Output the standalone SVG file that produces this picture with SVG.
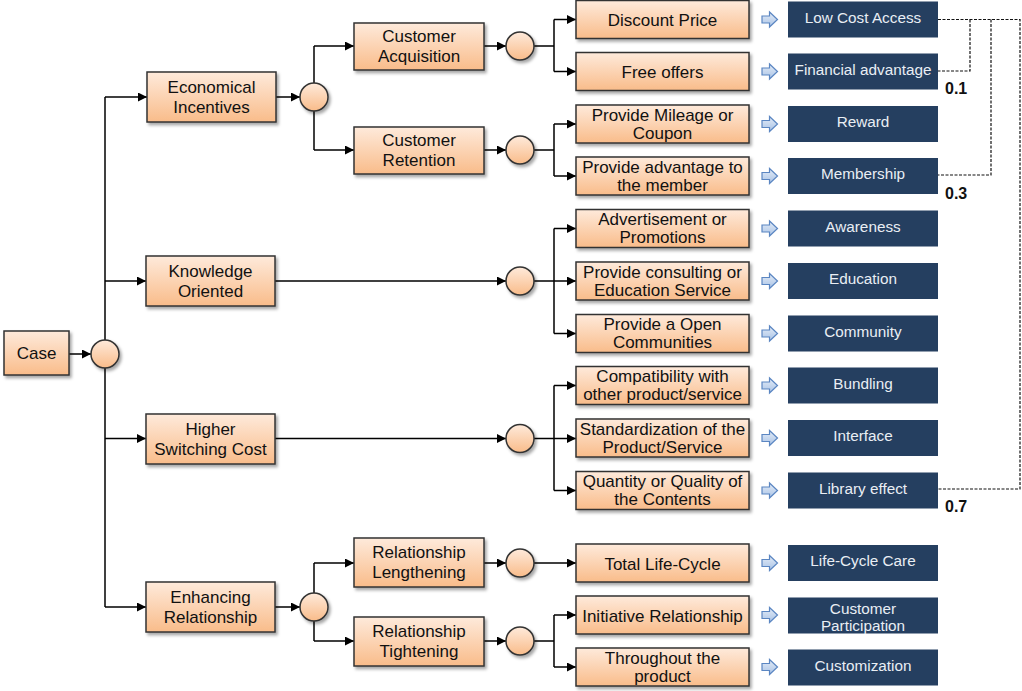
<svg xmlns="http://www.w3.org/2000/svg" width="1022" height="691" viewBox="0 0 1022 691">
<defs>
<linearGradient id="og" x1="0" y1="0" x2="0" y2="1">
<stop offset="0" stop-color="#FEEADB"/>
<stop offset="1" stop-color="#F9BC8A"/>
</linearGradient>
<linearGradient id="bg" x1="0" y1="0" x2="0" y2="1">
<stop offset="0" stop-color="#E4ECF7"/>
<stop offset="1" stop-color="#A9C3E6"/>
</linearGradient>
<filter id="sh" x="-10%" y="-10%" width="130%" height="140%">
<feDropShadow dx="2" dy="2.5" stdDeviation="1.5" flood-color="#000" flood-opacity="0.35"/>
</filter>
<marker id="ah" markerWidth="9" markerHeight="9" refX="9" refY="4.5" orient="auto" markerUnits="userSpaceOnUse">
<path d="M0,0 L9,4.5 L0,9 z" fill="#000"/>
</marker>
</defs>
<style>
.ob{fill:url(#og);stroke:#333;stroke-width:1.5;filter:url(#sh)}
.ci{fill:url(#og);stroke:#333;stroke-width:1.5;filter:url(#sh)}
.db{fill:#253F60}
.t{font-family:"Liberation Sans",Arial,sans-serif;font-size:17px;fill:#111;text-anchor:middle}
.w{font-family:"Liberation Sans",Arial,sans-serif;font-size:15.3px;fill:#E9EEF4;text-anchor:middle}
.n{font-family:"Liberation Sans",Arial,sans-serif;font-size:16px;font-weight:bold;fill:#111}
.c{fill:none;stroke:#000;stroke-width:1.5}
.a{marker-end:url(#ah)}
.d{fill:none;stroke:#111;stroke-width:1.2;stroke-dasharray:3,1.5}
.ba{fill:url(#bg);stroke:#5B86C2;stroke-width:1.2}
</style>

<g id="connectors">
<path class="c a" d="M69,354 H91"/>
<path class="c" d="M105,97 V607"/>
<path class="c a" d="M105,97 H147"/>
<path class="c a" d="M105,281 H146"/>
<path class="c a" d="M105,438.5 H146"/>
<path class="c a" d="M105,607 H146"/>
<path class="c a" d="M276,97 H300"/>
<path class="c" d="M314,46 V150"/>
<path class="c a" d="M314,46 H354"/>
<path class="c a" d="M314,150 H354"/>
<path class="c a" d="M484,46 H506"/>
<path class="c" d="M534,46 H554 M554,19.5 V71.5"/>
<path class="c a" d="M554,19.5 H576"/>
<path class="c a" d="M554,71.5 H576"/>
<path class="c a" d="M484,150 H506"/>
<path class="c" d="M534,150 H554 M554,124 V176"/>
<path class="c a" d="M554,124 H576"/>
<path class="c a" d="M554,176 H576"/>
<path class="c a" d="M275,281 H506"/>
<path class="c" d="M534,281 H554 M554,228.5 V333.5"/>
<path class="c a" d="M554,228.5 H576"/>
<path class="c a" d="M554,281 H576"/>
<path class="c a" d="M554,333.5 H576"/>
<path class="c a" d="M275,438.5 H506"/>
<path class="c" d="M534,438.5 H554 M554,385.5 V490.5"/>
<path class="c a" d="M554,385.5 H576"/>
<path class="c a" d="M554,438.5 H576"/>
<path class="c a" d="M554,490.5 H576"/>
<path class="c a" d="M275,607 H300"/>
<path class="c" d="M314,563 V641"/>
<path class="c a" d="M314,563 H354"/>
<path class="c a" d="M314,641 H354"/>
<path class="c a" d="M484,563 H506"/>
<path class="c a" d="M534,563 H576"/>
<path class="c a" d="M484,641 H506"/>
<path class="c" d="M534,641 H554 M554,615 V667"/>
<path class="c a" d="M554,615 H576"/>
<path class="c a" d="M554,667 H576"/>
<path class="d" d="M938,19.5 H1020 V489 H938"/>
<path class="d" d="M970,19.5 V71 H938"/>
<path class="d" d="M991,19.5 V175 H938"/>
</g>

<g id="case"><rect class="ob" x="4" y="331" width="65" height="44"/><text class="t" x="36.5" y="359">Case</text></g>
<g id="case-hub"><circle class="ci" cx="105" cy="354" r="14"/></g>

<g id="economical"><rect class="ob" x="147" y="72" width="129" height="50"/><text class="t" x="211.5" y="93">Economical</text><text class="t" x="211.5" y="113">Incentives</text></g>
<g id="economical-hub"><circle class="ci" cx="314" cy="97" r="14"/></g>
<g id="knowledge"><rect class="ob" x="146" y="256" width="129" height="50"/><text class="t" x="210.5" y="277">Knowledge</text><text class="t" x="210.5" y="297">Oriented</text></g>
<g id="switching"><rect class="ob" x="146" y="414" width="129" height="50"/><text class="t" x="210.5" y="435">Higher</text><text class="t" x="210.5" y="455">Switching Cost</text></g>
<g id="enhancing"><rect class="ob" x="146" y="582" width="129" height="50"/><text class="t" x="210.5" y="603">Enhancing</text><text class="t" x="210.5" y="623">Relationship</text></g>
<g id="enhancing-hub"><circle class="ci" cx="314" cy="607" r="14"/></g>

<g id="acquisition"><rect class="ob" x="354" y="23" width="130" height="47"/><text class="t" x="419" y="42">Customer</text><text class="t" x="419" y="62">Acquisition</text></g>
<g id="retention"><rect class="ob" x="354" y="127" width="130" height="47"/><text class="t" x="419" y="146">Customer</text><text class="t" x="419" y="166">Retention</text></g>
<g id="lengthening"><rect class="ob" x="354" y="538" width="130" height="49"/><text class="t" x="419" y="558">Relationship</text><text class="t" x="419" y="578">Lengthening</text></g>
<g id="tightening"><rect class="ob" x="354" y="617" width="130" height="49"/><text class="t" x="419" y="637">Relationship</text><text class="t" x="419" y="657">Tightening</text></g>

<g id="hub-acq"><circle class="ci" cx="520" cy="46" r="14"/></g>
<g id="hub-ret"><circle class="ci" cx="520" cy="150" r="14"/></g>
<g id="hub-know"><circle class="ci" cx="520" cy="281" r="14"/></g>
<g id="hub-switch"><circle class="ci" cx="520" cy="438.5" r="14"/></g>
<g id="hub-len"><circle class="ci" cx="520" cy="563" r="14"/></g>
<g id="hub-tight"><circle class="ci" cx="520" cy="641" r="14"/></g>

<g id="discount"><rect class="ob" x="576" y="0.5" width="173" height="38"/><text class="t" x="662.5" y="26">Discount Price</text></g>
<g id="free"><rect class="ob" x="576" y="52.5" width="173" height="38"/><text class="t" x="662.5" y="78">Free offers</text></g>
<g id="mileage"><rect class="ob" x="576" y="105" width="173" height="38"/><text class="t" x="662.5" y="120.5">Provide Mileage or</text><text class="t" x="662.5" y="138.5">Coupon</text></g>
<g id="member"><rect class="ob" x="576" y="157" width="173" height="38"/><text class="t" x="662.5" y="172.5">Provide advantage to</text><text class="t" x="662.5" y="190.5">the member</text></g>
<g id="advert"><rect class="ob" x="576" y="209.5" width="173" height="38"/><text class="t" x="662.5" y="225">Advertisement or</text><text class="t" x="662.5" y="243">Promotions</text></g>
<g id="consult"><rect class="ob" x="576" y="262" width="173" height="38"/><text class="t" x="662.5" y="277.5">Provide consulting or</text><text class="t" x="662.5" y="295.5">Education Service</text></g>
<g id="open"><rect class="ob" x="576" y="314.5" width="173" height="38"/><text class="t" x="662.5" y="330">Provide a Open</text><text class="t" x="662.5" y="348">Communities</text></g>
<g id="compat"><rect class="ob" x="576" y="366.5" width="173" height="38"/><text class="t" x="662.5" y="382">Compatibility with</text><text class="t" x="662.5" y="400">other product/service</text></g>
<g id="standard"><rect class="ob" x="576" y="419" width="173" height="38"/><text class="t" x="662.5" y="434.5">Standardization of the</text><text class="t" x="662.5" y="452.5">Product/Service</text></g>
<g id="quantity"><rect class="ob" x="576" y="471.5" width="173" height="38"/><text class="t" x="662.5" y="487">Quantity or Quality of</text><text class="t" x="662.5" y="505">the Contents</text></g>
<g id="lifecycle"><rect class="ob" x="576" y="544" width="173" height="38"/><text class="t" x="662.5" y="569.5">Total Life-Cycle</text></g>
<g id="initiative"><rect class="ob" x="576" y="596" width="173" height="38"/><text class="t" x="662.5" y="621.5">Initiative Relationship</text></g>
<g id="throughout"><rect class="ob" x="576" y="648" width="173" height="38"/><text class="t" x="662.5" y="663.5">Throughout the</text><text class="t" x="662.5" y="681.5">product</text></g>

<g id="blue-arrows">
<path class="ba" d="M762,16 H769.5 V12 L777.5,19.5 L769.5,27 V23 H762 Z"/>
<path class="ba" d="M762,68 H769.5 V64 L777.5,71.5 L769.5,79 V75 H762 Z"/>
<path class="ba" d="M762,120.5 H769.5 V116.5 L777.5,124 L769.5,131.5 V127.5 H762 Z"/>
<path class="ba" d="M762,172.5 H769.5 V168.5 L777.5,176 L769.5,183.5 V179.5 H762 Z"/>
<path class="ba" d="M762,225 H769.5 V221 L777.5,228.5 L769.5,236 V232 H762 Z"/>
<path class="ba" d="M762,277.5 H769.5 V273.5 L777.5,281 L769.5,288.5 V284.5 H762 Z"/>
<path class="ba" d="M762,330 H769.5 V326 L777.5,333.5 L769.5,341 V337 H762 Z"/>
<path class="ba" d="M762,382 H769.5 V378 L777.5,385.5 L769.5,393 V389 H762 Z"/>
<path class="ba" d="M762,434.5 H769.5 V430.5 L777.5,438 L769.5,445.5 V441.5 H762 Z"/>
<path class="ba" d="M762,487 H769.5 V483 L777.5,490.5 L769.5,498 V494 H762 Z"/>
<path class="ba" d="M762,559.5 H769.5 V555.5 L777.5,563 L769.5,570.5 V566.5 H762 Z"/>
<path class="ba" d="M762,611.5 H769.5 V607.5 L777.5,615 L769.5,622.5 V618.5 H762 Z"/>
<path class="ba" d="M762,663.5 H769.5 V659.5 L777.5,667 L769.5,674.5 V670.5 H762 Z"/>
</g>

<g id="low-cost"><rect class="db" x="788" y="1.5" width="150" height="36"/><text class="w" x="863" y="22.5">Low Cost Access</text></g>
<g id="financial"><rect class="db" x="788" y="53.5" width="150" height="36"/><text class="w" x="863" y="74.5">Financial advantage</text></g>
<g id="reward"><rect class="db" x="788" y="106" width="150" height="36"/><text class="w" x="863" y="127">Reward</text></g>
<g id="membership"><rect class="db" x="788" y="158" width="150" height="36"/><text class="w" x="863" y="179">Membership</text></g>
<g id="awareness"><rect class="db" x="788" y="210.5" width="150" height="36"/><text class="w" x="863" y="231.5">Awareness</text></g>
<g id="education"><rect class="db" x="788" y="263" width="150" height="36"/><text class="w" x="863" y="284">Education</text></g>
<g id="community"><rect class="db" x="788" y="315.5" width="150" height="36"/><text class="w" x="863" y="336.5">Community</text></g>
<g id="bundling"><rect class="db" x="788" y="367.5" width="150" height="36"/><text class="w" x="863" y="388.5">Bundling</text></g>
<g id="interface"><rect class="db" x="788" y="420" width="150" height="36"/><text class="w" x="863" y="441">Interface</text></g>
<g id="library"><rect class="db" x="788" y="472.5" width="150" height="36"/><text class="w" x="863" y="493.5">Library effect</text></g>
<g id="lifecycle-care"><rect class="db" x="788" y="545" width="150" height="36"/><text class="w" x="863" y="566">Life-Cycle Care</text></g>
<g id="participation"><rect class="db" x="788" y="597.5" width="150" height="36"/><text class="w" x="863" y="614">Customer</text><text class="w" x="863" y="631">Participation</text></g>
<g id="customization"><rect class="db" x="788" y="649.5" width="150" height="36"/><text class="w" x="863" y="670.5">Customization</text></g>

<g id="weights">
<text class="n" x="945" y="94">0.1</text>
<text class="n" x="945" y="199">0.3</text>
<text class="n" x="945" y="512">0.7</text>
</g>
</svg>
